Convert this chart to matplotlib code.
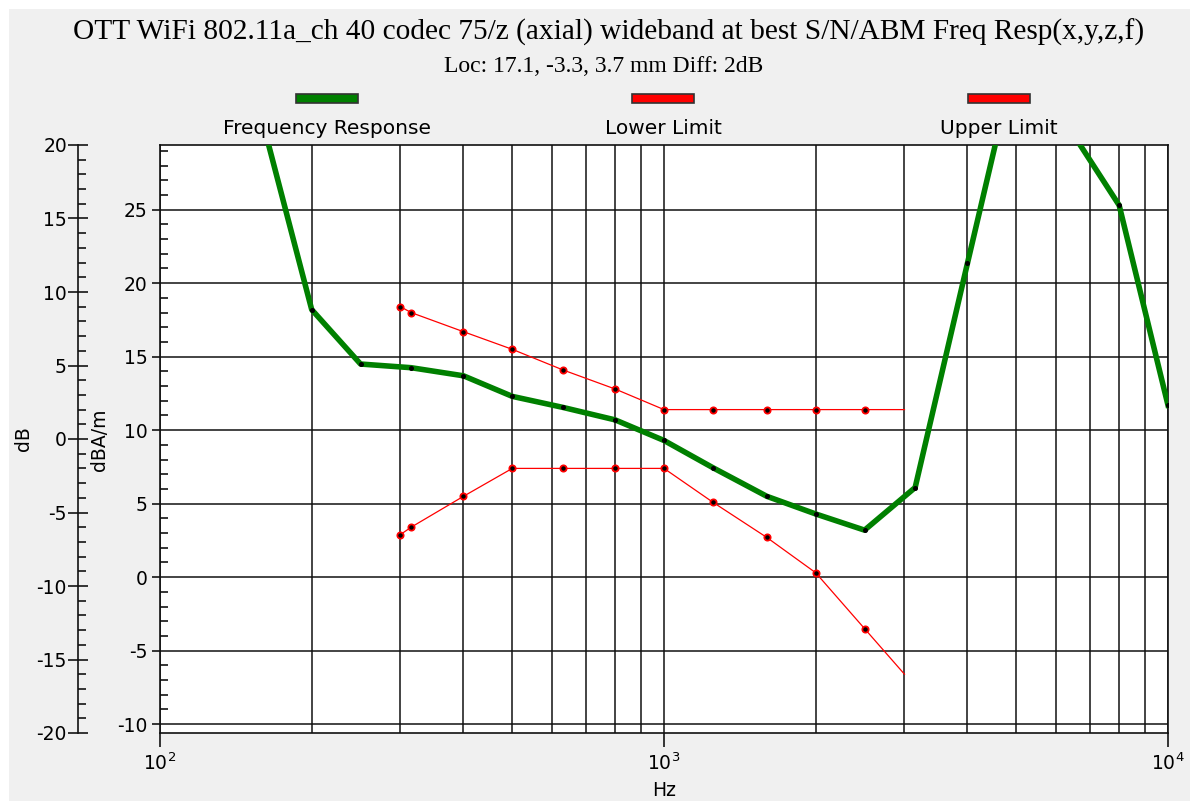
import matplotlib
matplotlib.use('Agg')
import matplotlib.pyplot as plt
from matplotlib.patches import Rectangle
from matplotlib.ticker import MultipleLocator, LogLocator, NullFormatter

plt.rcParams['font.family'] = ['DejaVu Sans']
plt.rcParams['axes.unicode_minus'] = False

title = "OTT WiFi 802.11a_ch 40 codec 75/z (axial) wideband at best S/N/ABM Freq Resp(x,y,z,f)"
subtitle = "Loc: 17.1, -3.3, 3.7 mm Diff: 2dB"
legend_labels = ["Frequency Response", "Lower Limit", "Upper Limit"]
legend_colors = ["#008000", "#ff0000", "#ff0000"]

# Frequency response (dBA/m, inner axis)
resp_freq = [160, 200, 250, 315, 400, 500, 630, 800, 1000, 1250, 1600, 2000,
             2500, 3150, 4000, 5000, 6300, 8000, 10000]
resp_dbam = [30.9, 18.2, 14.5, 14.25, 13.7, 12.3, 11.55, 10.7, 9.3, 7.45, 5.5, 4.3,
             3.2, 6.1, 21.35, 35.5, 30.8, 25.3, 11.7]

# Limits (dB, outer axis)
limit_freq = [300, 315, 400, 500, 630, 800, 1000, 1250, 1600, 2000, 2500, 3000]
upper_db = [9.0, 8.6, 7.3, 6.1, 4.7, 3.4, 2.0, 2.0, 2.0, 2.0, 2.0, 2.0]
lower_db = [-6.5, -6.0, -3.9, -2.0, -2.0, -2.0, -2.0, -4.3, -6.7, -9.1, -12.9, -16.0]

DB_OFFSET = 9.4  # dBA/m axis = dB axis + offset

W, H = 1192, 801
fig = plt.figure(figsize=(W / 100, H / 100), dpi=100)
fig.patch.set_facecolor('white')
fig.add_artist(Rectangle((9 / W, 0), (1190 - 9) / W, (801 - 9) / H,
                         transform=fig.transFigure, facecolor='#f0f0f0',
                         edgecolor='none', zorder=-10))

L, R, T, B = 160, 1168, 145, 733
ax = fig.add_axes([L / W, 1 - B / H, (R - L) / W, (B - T) / H])
ax.set_facecolor('white')
ax.set_xscale('log')
ax.set_xlim(100, 10000)
ax.set_ylim(-20 + DB_OFFSET, 20 + DB_OFFSET)
ax.yaxis.set_major_locator(MultipleLocator(5))
ax.yaxis.set_minor_locator(MultipleLocator(1))
ax.xaxis.set_major_locator(LogLocator(base=10))
ax.xaxis.set_minor_locator(LogLocator(base=10, subs=range(2, 10)))
ax.xaxis.set_minor_formatter(NullFormatter())
ax.set_axisbelow(True)
ax.grid(which='major', axis='y', color='#111111', lw=1.1)
ax.grid(which='both', axis='x', color='#111111', lw=1.1)
ax.tick_params(axis='y', which='major', direction='out', length=6, width=1.1,
               labelsize=13.5, pad=3)
ax.tick_params(axis='y', which='minor', direction='in', length=6, width=1.1)
ax.tick_params(axis='x', which='major', direction='out', length=10, width=1.1,
               labelsize=13.5, pad=4)
ax.tick_params(axis='x', which='minor', length=0)
for s in ax.spines.values():
    s.set_linewidth(1.2)
    s.set_color('#111111')

ax.plot(resp_freq, resp_dbam, color='#008000', lw=4.0, zorder=3,
        solid_joinstyle='round')
ax.plot(resp_freq, resp_dbam, linestyle='none', marker='o', ms=2.6,
        mfc='black', mec='black', zorder=4)

ax2 = ax.twinx()
ax2.set_ylim(-20, 20)
ax2.set_xlim(100, 10000)
for k in ('right', 'top', 'bottom'):
    ax2.spines[k].set_visible(False)
ax2.spines['left'].set_visible(True)
ax2.spines['left'].set_position(('axes', -(L - 78) / (R - L)))
ax2.spines['left'].set_linewidth(1.2)
ax2.spines['left'].set_color('#111111')
ax2.yaxis.set_ticks_position('left')
ax2.yaxis.set_label_position('left')
ax2.yaxis.set_major_locator(MultipleLocator(5))
ax2.yaxis.set_minor_locator(MultipleLocator(1))
ax2.tick_params(axis='y', which='major', direction='inout', length=14, width=1.1,
                labelsize=13.5, pad=1)
ax2.tick_params(axis='y', which='minor', direction='in', length=6, width=1.1)

mk = list(range(len(limit_freq) - 1))
for vals in (upper_db, lower_db):
    ax2.plot(limit_freq, vals, color='#ff0000', lw=0.9, marker='o', ms=4.5,
             mfc='black', mec='#ff0000', mew=1.3, markevery=mk, zorder=5)

# axis labels
fig.text(24 / W, 1 - 439 / H, 'dB', rotation=90, ha='center', va='center', fontsize=13.5)
fig.text(100 / W, 1 - 440 / H, 'dBA/m', rotation=90, ha='center', va='center', fontsize=13.5)
fig.text(664 / W, 1 - 790 / H, 'Hz', ha='center', va='center', fontsize=13.5)

# title
fig.text(609 / W, 1 - 32 / H, title, ha='center', va='center', fontsize=21.2,
         family='Liberation Serif')
fig.text(604 / W, 1 - 67 / H, subtitle, ha='center', va='center', fontsize=17,
         family='Liberation Serif')

# legend
centers = [327, 663, 999]
for cx, lab, col in zip(centers, legend_labels, legend_colors):
    fig.add_artist(Rectangle(((cx - 31) / W, 1 - 103 / H), 62 / W, 9 / H,
                             transform=fig.transFigure, facecolor=col,
                             edgecolor='#333333', lw=1.2))
    fig.text(cx / W, 1 - 128 / H, lab, ha='center', va='center', fontsize=14.5)

fig.savefig('out.png', dpi=100)
